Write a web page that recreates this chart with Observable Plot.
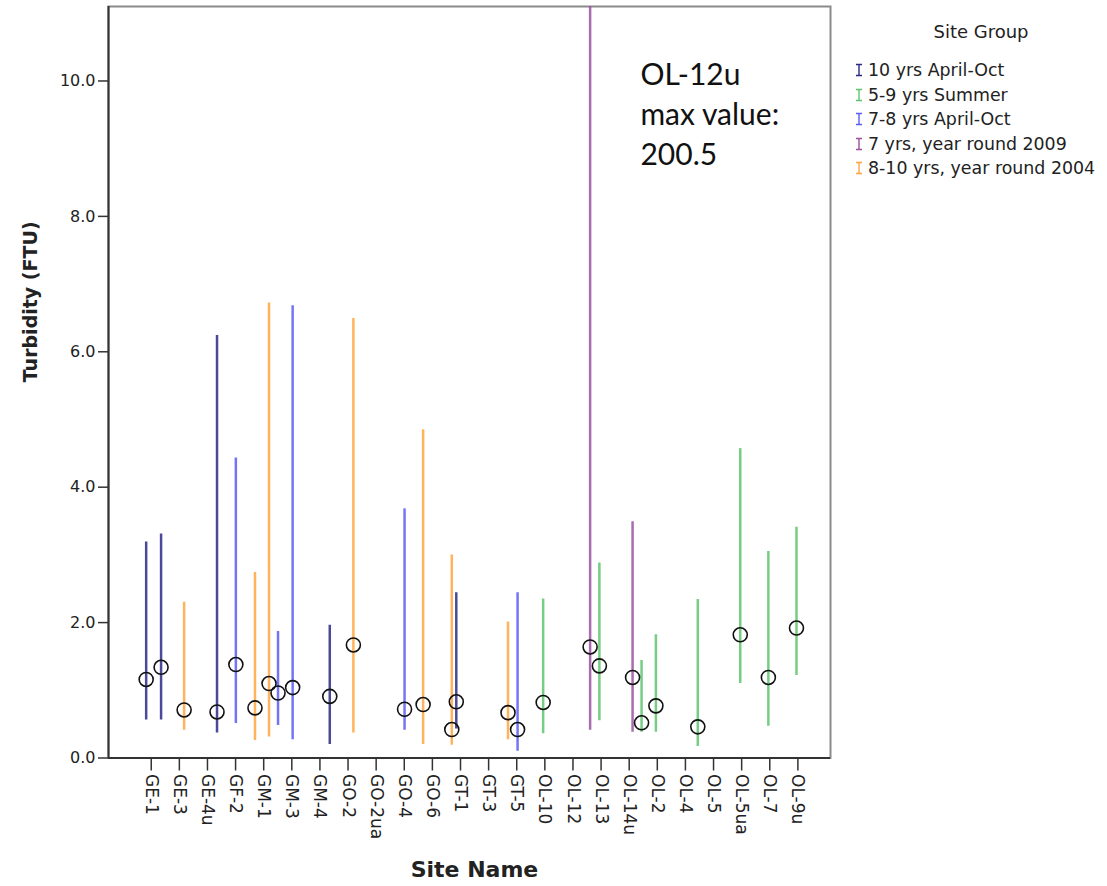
<!DOCTYPE html>
<html>
<head>
<meta charset="utf-8">
<script src="https://cdn.jsdelivr.net/npm/d3@7"></script>
<script src="https://cdn.jsdelivr.net/npm/@observablehq/plot@0.6"></script>
<style>
  html, body { margin: 0; padding: 0; background: #fff; }
  #wrap { position: relative; width: 1107px; height: 886px; font-family: "DejaVu Sans", sans-serif; }
  #legend { position: absolute; left: 855px; top: 21px; width: 252px; color: #222; }
  #legend .title { font-size: 18px; text-align: center; width: 256px; margin-left: -2px; margin-bottom: 16px; }
  #legend .item { display: flex; align-items: center; height: 24.5px; font-size: 17.4px; white-space: nowrap; }
  #legend svg { margin-right: 5px; flex: none; }
</style>
</head>
<body>
<div id="wrap"><div id="chart"></div><div id="legend"></div></div>
<script>
// ---- data ----
const sites = ["GE-1","GE-3","GE-4u","GF-2","GM-1","GM-3","GM-4","GO-2","GO-2ua","GO-4","GO-6","GT-1","GT-3","GT-5","OL-10","OL-12","OL-13","OL-14u","OL-2","OL-4","OL-5","OL-5ua","OL-7","OL-9u"];
const groups = ["10 yrs April-Oct","5-9 yrs Summer","7-8 yrs April-Oct","7 yrs, year round 2009","8-10 yrs, year round 2004"];
const groupColors = ["#2a2a86","#5ec46e","#5c5cf6","#9a52a0","#ffa640"];
// position of each error bar along the site axis (site index units, as drawn)
const barPos   = [-0.18,0.35,1.17,2.34,3.01,3.69,4.19,4.51,5.03,6.35,7.19,9.01,9.67,10.69,10.85,12.69,13.03,13.94,15.61,15.94,17.12,17.44,17.95,19.44,20.95,21.95,22.95];
const barGroup = [0,0,4,0,2,4,4,2,2,0,4,2,4,4,0,4,2,1,3,1,3,1,1,1,1,1,1];
const barLow   = [0.56,0.56,0.41,0.37,0.51,0.26,0.31,0.48,0.27,0.20,0.37,0.41,0.20,0.19,0.43,0.27,0.10,0.36,0.41,0.55,0.38,0.38,0.38,0.17,1.10,0.47,1.22];
const barMean  = [1.16,1.34,0.71,0.68,1.38,0.74,1.10,0.96,1.04,0.91,1.67,0.72,0.79,0.42,0.83,0.67,0.42,0.82,1.64,1.36,1.19,0.52,0.77,0.46,1.82,1.19,1.92];
const barHigh  = [3.19,3.31,2.30,6.24,4.43,2.74,6.72,1.87,6.68,1.96,6.49,3.68,4.85,3.00,2.44,2.01,2.44,2.35,200.5,2.88,3.49,1.44,1.82,2.34,4.57,3.05,3.41];
const yTicks = [0,2,4,6,8,10];
const xDomain = [-1.52, 24.16];
const yDomain = [0, 11.1];
const noteText = "OL-12u\nmax value:\n200.5";
const noteX = 17.4, noteY = 10.36;

const bars = barPos.map((p, i) => ({
  pos: p, group: groups[barGroup[i]], low: barLow[i], mean: barMean[i], high: barHigh[i]
}));

const chart = Plot.plot({
  width: 1107,
  height: 886,
  marginLeft: 108,
  marginRight: 277,
  marginTop: 6,
  marginBottom: 128.5,
  style: { fontFamily: "DejaVu Sans, sans-serif", color: "#222", background: "#fff", overflow: "visible" },
  x: { type: "linear", domain: xDomain },
  y: { type: "linear", domain: yDomain },
  color: { domain: groups, range: groupColors },
  marks: [
    Plot.frame({ stroke: "#8a8a8a", strokeWidth: 2 }),
    Plot.ruleX(bars, { x: "pos", y1: "low", y2: "high", stroke: "group", strokeWidth: 2.5, strokeOpacity: 0.85, clip: true }),
    Plot.dot(bars, { x: "pos", y: "mean", r: 7, stroke: "#111", strokeWidth: 1.6, fill: "none" }),
    Plot.ruleY([0], { stroke: "#333", strokeWidth: 2 }),
    Plot.ruleX([xDomain[0]], { stroke: "#333", strokeWidth: 2 }),
    Plot.axisY({ ticks: yTicks, tickFormat: d3.format(".1f"), tickSize: 10, tickPadding: 3, fontSize: 16, label: null, stroke: "#333", strokeWidth: 1.5 }),
    Plot.axisX({ ticks: d3.range(sites.length), tickFormat: i => sites[i], tickRotate: 90, tickSize: 13, tickPadding: 3, fontSize: 17, label: null, stroke: "#333", strokeWidth: 1.5 }),
    Plot.text(["Turbidity (FTU)"], { frameAnchor: "left", dx: -78, rotate: -90, fontSize: 19, fontWeight: "bold", fill: "#222" }),
    Plot.text(["Site Name"], { frameAnchor: "bottom", dx: 5, dy: 119, fontSize: 22, fontWeight: "bold", fill: "#222" }),
    Plot.text([noteText], { x: () => noteX, y: () => noteY, text: d => d, textAnchor: "start", lineAnchor: "top", lineHeight: 1.33, fontSize: 30, fontFamily: "Lato, sans-serif", fill: "#111" })
  ]
});
document.getElementById("chart").appendChild(chart);

// legend
const legend = document.getElementById("legend");
const t = document.createElement("div");
t.className = "title";
t.textContent = "Site Group";
legend.appendChild(t);
groups.forEach((g, i) => {
  const row = document.createElement("div");
  row.className = "item";
  row.innerHTML = `<svg width="8" height="14"><path d="M1,1.5H7M4,1.5V12.5M1,12.5H7" stroke="${groupColors[i]}" stroke-width="1.4" fill="none"/></svg><span>${g}</span>`;
  legend.appendChild(row);
});
</script>
</body>
</html>
